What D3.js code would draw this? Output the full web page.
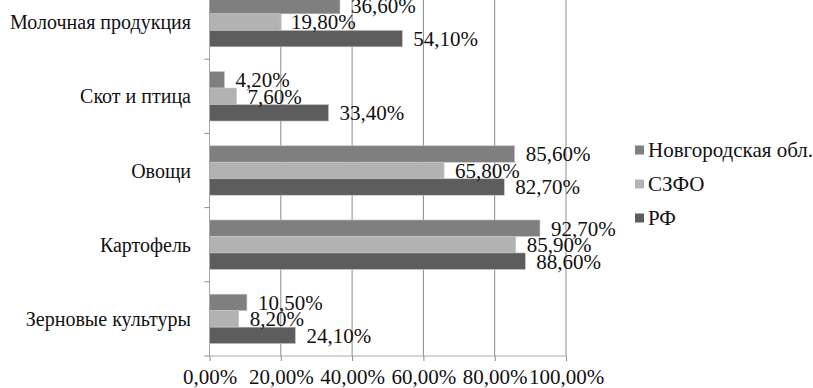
<!DOCTYPE html>
<html><head><meta charset="utf-8">
<script src="https://cdn.jsdelivr.net/npm/d3@7"></script>
<style>
html,body{margin:0;padding:0;background:#fff;}
svg{display:block;}
</style></head>
<body>
<svg id="chart" width="813" height="388" font-family="Liberation Serif"></svg>
<script>
const categories = ["Молочная продукция","Скот и птица","Овощи","Картофель","Зерновые культуры"];
const seriesNames = ["Новгородская обл.","СЗФО","РФ"];
const novgorod = [36.6, 4.2, 85.6, 92.7, 10.5];
const szfo = [19.8, 7.6, 65.8, 85.9, 8.2];
const rf = [54.1, 33.4, 82.7, 88.6, 24.1];
const tickValues = [0, 20, 40, 60, 80, 100];
const colors = ["#7f7f7f", "#b2b2b2", "#5d5d5d"];

const seriesValues = [novgorod, szfo, rf];
const fmt = v => v.toFixed(2).replace(".", ",") + "%";
const FONT = "'Liberation Serif', 'Times New Roman', Tinos, 'DejaVu Serif', serif";

const svg = d3.select("#chart");
const x = d3.scaleLinear().domain([0, 100]).range([209.5, 566]);
const y = d3.scaleBand().domain(categories).range([-15, 356]).padding(0);
const y1 = d3.scaleBand().domain(seriesNames).range([0, y.bandwidth()]).paddingInner(0).paddingOuter(0.75);

// gridlines
svg.append("g").selectAll("line").data(tickValues.slice(1)).join("line")
  .attr("x1", d => x(d)).attr("x2", d => x(d))
  .attr("y1", -15).attr("y2", 356)
  .attr("stroke", d => d === 100 ? "#b4b4b4" : "#8a8a8a")
  .attr("stroke-width", d => d === 100 ? 1.5 : 1);

// bars
const groups = svg.append("g").selectAll("g").data(categories).join("g")
  .attr("transform", c => `translate(0,${y(c)})`);
groups.selectAll("rect").data((c, i) => seriesNames.map((s, j) => ({s, j, v: seriesValues[j][i]})))
  .join("rect")
  .attr("x", x(0)).attr("y", d => y1(d.s))
  .attr("width", d => x(d.v) - x(0)).attr("height", y1.bandwidth())
  .attr("fill", d => colors[d.j])
  .attr("stroke", "#c8c8c8").attr("stroke-width", 0.6);

// data labels
groups.selectAll("text").data((c, i) => seriesNames.map((s, j) => ({s, j, v: seriesValues[j][i]})))
  .join("text")
  .attr("x", d => x(d.v) + 11).attr("y", d => y1(d.s) + y1.bandwidth() / 2)
  .attr("dy", "0.35em")
  .style("font-size", "21px")
  .text(d => fmt(d.v));

// bottom axis
const xAxis = svg.append("g").attr("transform", "translate(0,356)")
  .call(d3.axisBottom(x).tickValues(tickValues).tickFormat(d => d.toFixed(2).replace(".", ",") + "%").tickSize(5).tickPadding(8));
xAxis.attr("font-family", null).attr("font-size", null);
xAxis.select(".domain").attr("stroke", "#a8a8a8").attr("d", `M${x(0)},0H${x(100)}`);
xAxis.selectAll(".tick line").attr("stroke", "#8a8a8a");
xAxis.selectAll("text").style("font-size", "21px");

// left axis
const yAxis = svg.append("g").attr("transform", `translate(${x(0)},0)`);
yAxis.append("line").attr("x1", 0).attr("x2", 0).attr("y1", -15).attr("y2", 356).attr("stroke", "#a8a8a8");
yAxis.selectAll("line.t").data(d3.range(categories.length + 1)).join("line").attr("class", "t")
  .attr("x1", -5).attr("x2", 0)
  .attr("y1", i => -15 + i * y.step()).attr("y2", i => -15 + i * y.step())
  .attr("stroke", "#8a8a8a");
svg.append("g").selectAll("text").data(categories).join("text")
  .attr("x", 191).attr("y", c => y(c) + y.bandwidth() / 2)
  .attr("dy", "0.35em").attr("text-anchor", "end")
  .style("font-size", "20px")
  .text(c => c);

// legend
const legend = svg.append("g").selectAll("g").data(seriesNames).join("g")
  .attr("transform", (s, i) => `translate(635,${150 + i * 34})`);
legend.append("rect").attr("x", 0).attr("y", -4.5).attr("width", 9).attr("height", 9)
  .attr("fill", (s, i) => colors[i]);
legend.append("text").attr("x", 13).attr("y", 0).attr("dy", "0.35em")
  .style("font-size", "21px").text(s => s);

svg.selectAll("text").style("font-family", FONT).attr("fill", "#111");
</script>
</body></html>
